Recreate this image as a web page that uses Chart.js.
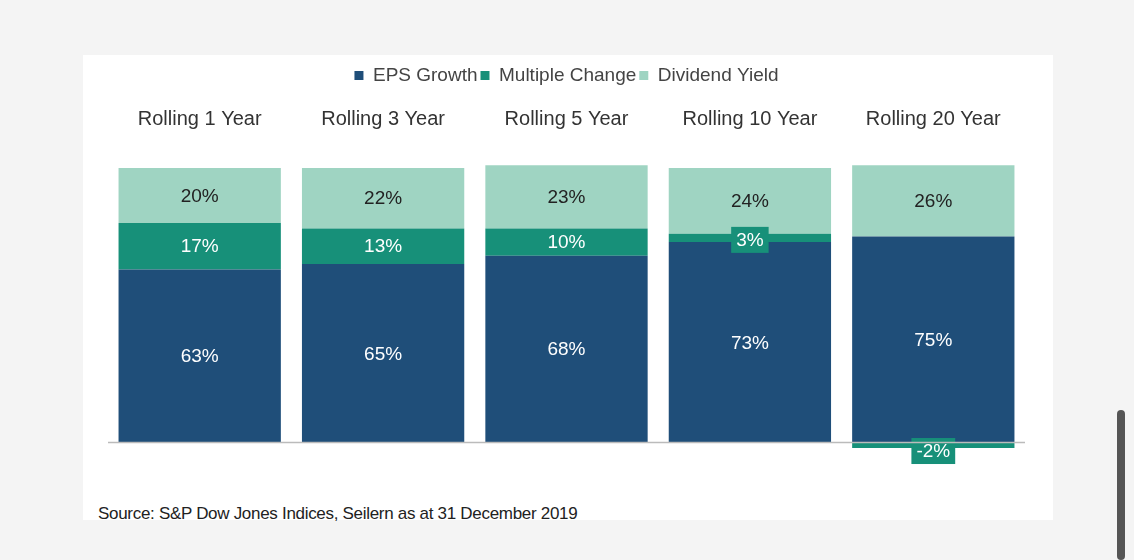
<!DOCTYPE html>
<html><head><meta charset="utf-8">
<script src="https://cdn.jsdelivr.net/npm/chart.js@4"></script>
<style>
body{margin:0;background:#f4f4f4;width:1134px;height:560px;overflow:hidden;font-family:"Liberation Sans",Arial,sans-serif}
#panel{position:absolute;left:83px;top:55px;width:970px;height:465px;background:#fff}
#wrap{position:absolute;left:0;top:0;width:970px;height:440px}
#src{position:absolute;left:15px;top:449px;font-size:17px;color:#222;letter-spacing:-0.3px}
#bar{position:absolute;left:1117px;top:410px;width:8px;height:150px;background:#555;border-radius:4px}
</style></head><body>
<div id="panel"><div id="wrap"><canvas id="c"></canvas></div>
<div id="src">Source: S&amp;P Dow Jones Indices, Seilern as at 31 December 2019</div></div>
<div id="bar"></div>
<script>
const categories = ["Rolling 1 Year","Rolling 3 Year","Rolling 5 Year","Rolling 10 Year","Rolling 20 Year"];
const epsGrowth = [63,65,68,73,75];
const multipleChange = [17,13,10,3,-2];
const dividendYield = [20,22,23,24,26];

const colors = ["#1f4e79","#179079","#9fd4c2"];

const valueLabels = {
  id:"valueLabels",
  afterDatasetsDraw(chart){
    const {ctx} = chart;
    ctx.save();
    ctx.font = "19px 'Liberation Sans', Arial";
    ctx.textAlign = "center"; ctx.textBaseline = "middle";
    chart.data.datasets.forEach((ds,di)=>{
      chart.getDatasetMeta(di).data.forEach((bar,i)=>{
        const v = ds.data[i];
        const txt = v + "%";
        let y = (bar.y + bar.base)/2;
        const small = Math.abs(bar.y - bar.base) < 20;
        if (small){
          y = v < 0 ? bar.y + 3 : bar.y + 6;
          const w = ctx.measureText(txt).width + 10;
          ctx.fillStyle = colors[1];
          ctx.fillRect(bar.x - w/2, y - 13, w, 26);
        }
        ctx.fillStyle = di === 2 ? "#222" : "#fff";
        ctx.fillText(txt, bar.x, y + 1);
      });
    });
    const y0 = chart.scales.y.getPixelForValue(0);
    ctx.strokeStyle = "#bbb"; ctx.lineWidth = 1.5;
    ctx.beginPath(); ctx.moveTo(chart.chartArea.left, y0); ctx.lineTo(chart.chartArea.right, y0); ctx.stroke();
    ctx.restore();
  }
};

new Chart("c", {
  type:"bar",
  data:{
    labels: categories,
    datasets:[
      {label:"EPS Growth", data:epsGrowth, backgroundColor:colors[0]},
      {label:"Multiple Change", data:multipleChange, backgroundColor:colors[1]},
      {label:"Dividend Yield", data:dividendYield, backgroundColor:colors[2]}
    ]
  },
  options:{
    responsive:true, maintainAspectRatio:false, animation:false,
    layout:{padding:{left:25,right:28,bottom:36,top:8}},
    datasets:{bar:{barPercentage:0.885,categoryPercentage:1}},
    plugins:{
      legend:{position:"top",labels:{boxWidth:9,boxHeight:9,padding:3,color:"#444",font:{size:19,family:"'Liberation Sans', Arial"}}},
      tooltip:{enabled:false}
    },
    scales:{
      x:{stacked:true,position:"top",grid:{display:false},border:{display:false},
         ticks:{color:"#333",padding:18,font:{size:20,family:"'Liberation Sans', Arial"}},
         afterFit(s){ s.height = 62; }},
      y:{stacked:true,min:-6,max:104,display:false}
    }
  },
  plugins:[valueLabels]
});
</script>
</body></html>
